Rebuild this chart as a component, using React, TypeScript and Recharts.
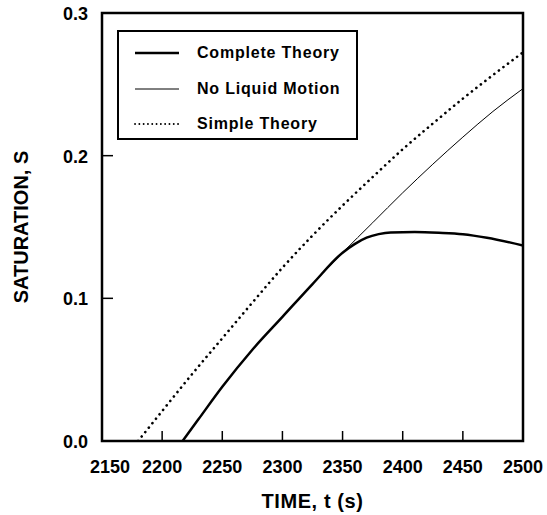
import { Label, Line, LineChart, ReferenceArea, XAxis, YAxis } from 'recharts';

// time (s) vs saturation S
const completeTheory = [
  { t: 2217, s: 0 },
  { t: 2230, s: 0.015 },
  { t: 2250, s: 0.038 },
  { t: 2275, s: 0.064 },
  { t: 2300, s: 0.087 },
  { t: 2325, s: 0.11 },
  { t: 2350, s: 0.132 },
  { t: 2360, s: 0.138 },
  { t: 2370, s: 0.1425 },
  { t: 2380, s: 0.145 },
  { t: 2390, s: 0.1462 },
  { t: 2410, s: 0.1465 },
  { t: 2430, s: 0.146 },
  { t: 2450, s: 0.145 },
  { t: 2470, s: 0.1425 },
  { t: 2500, s: 0.137 },
];

const noLiquidMotion = [
  { t: 2217, s: 0 },
  { t: 2230, s: 0.015 },
  { t: 2250, s: 0.038 },
  { t: 2275, s: 0.064 },
  { t: 2300, s: 0.087 },
  { t: 2325, s: 0.11 },
  { t: 2350, s: 0.132 },
  { t: 2375, s: 0.153 },
  { t: 2400, s: 0.174 },
  { t: 2425, s: 0.194 },
  { t: 2450, s: 0.213 },
  { t: 2475, s: 0.231 },
  { t: 2500, s: 0.247 },
];

const simpleTheory = [
  { t: 2180, s: 0 },
  { t: 2200, s: 0.021 },
  { t: 2225, s: 0.047 },
  { t: 2250, s: 0.072 },
  { t: 2275, s: 0.097 },
  { t: 2300, s: 0.1215 },
  { t: 2325, s: 0.144 },
  { t: 2350, s: 0.165 },
  { t: 2375, s: 0.185 },
  { t: 2400, s: 0.2045 },
  { t: 2425, s: 0.2225 },
  { t: 2450, s: 0.24 },
  { t: 2475, s: 0.2565 },
  { t: 2500, s: 0.2724 },
];

const timeTicks = [2150, 2200, 2250, 2300, 2350, 2400, 2450, 2500];
const satTicks = [0, 0.1, 0.2, 0.3];

const FONT = '"Liberation Sans", Arial, Helvetica, sans-serif';

const SERIES = [
  { name: 'Complete Theory', width: 2.5, dash: undefined },
  { name: 'No Liquid Motion', width: 1, dash: undefined },
  { name: 'Simple Theory', width: 2.6, dash: '0.1 5.6' },
];

function TimeTick({ x, y, payload }: any) {
  const v = payload.value as number;
  const edge = v === 2150 || v === 2500;
  return (
    <g>
      {!edge && <line x1={x} y1={y} x2={x} y2={y - 10} stroke="#000" strokeWidth={1.5} />}
      <text
        x={x + (v === 2150 ? 8 : 0)}
        y={y + 32}
        textAnchor="middle"
        fontFamily={FONT}
        fontWeight="bold"
        fontSize={18}
        fill="#000"
      >
        {v}
      </text>
    </g>
  );
}

function SatTick({ x, y, payload }: any) {
  const v = payload.value as number;
  const edge = v === 0 || v === 0.3;
  return (
    <g>
      {!edge && <line x1={x} y1={y} x2={x + 11} y2={y} stroke="#000" strokeWidth={1.5} />}
      <text
        x={x - 14}
        y={y + 7}
        textAnchor="end"
        fontFamily={FONT}
        fontWeight="bold"
        fontSize={18}
        fill="#000"
      >
        {v.toFixed(1)}
      </text>
    </g>
  );
}

function ChartLegend() {
  return (
    <div
      style={{
        position: 'absolute',
        left: 117,
        top: 30,
        width: 241,
        height: 110,
        boxSizing: 'border-box',
        border: '2px solid #000',
        background: '#fff',
        fontFamily: FONT,
        fontWeight: 'bold',
        fontSize: 16,
        letterSpacing: 0.8,
      }}
    >
      {SERIES.map((s, i) => (
        <div
          key={s.name}
          style={{ position: 'absolute', left: 15, top: 9 + i * 35.5, height: 24, display: 'flex', alignItems: 'center' }}
        >
          <svg width={46} height={10} style={{ marginRight: 17 }}>
            <line
              x1={1}
              y1={5}
              x2={45}
              y2={5}
              stroke="#000"
              strokeWidth={s.dash ? 1.8 : s.width}
              strokeDasharray={s.dash ? '0.1 4.2' : undefined}
              strokeLinecap={s.dash ? 'round' : 'butt'}
            />
          </svg>
          <span>{s.name}</span>
        </div>
      ))}
    </div>
  );
}

export default function App() {
  return (
    <div style={{ position: 'absolute', left: 0, top: 0, width: 547, height: 515, background: '#fff' }}>
      <LineChart width={547} height={515} margin={{ top: 13, right: 24, bottom: 0, left: 0 }}>
        <XAxis
          dataKey="t"
          type="number"
          domain={[2150, 2500]}
          ticks={timeTicks}
          allowDataOverflow
          height={74}
          tickSize={0}
          tickMargin={0}
          axisLine={false}
          tick={<TimeTick />}
        >
          <Label
            content={({ viewBox }: any) => (
              <text
                x={viewBox.x + viewBox.width / 2}
                y={viewBox.y + 67}
                textAnchor="middle"
                fontFamily={FONT}
                fontWeight="bold"
                fontSize={20}
                letterSpacing={0.6}
                fill="#000"
              >
                TIME, t (s)
              </text>
            )}
          />
        </XAxis>
        <YAxis
          type="number"
          domain={[0, 0.3]}
          ticks={satTicks}
          allowDataOverflow
          width={102}
          tickSize={0}
          tickMargin={0}
          axisLine={false}
          tick={<SatTick />}
        >
          <Label
            content={({ viewBox }: any) => {
              const cx = viewBox.x + 21;
              const cy = viewBox.y + viewBox.height / 2;
              return (
                <text
                  x={cx}
                  y={cy}
                  transform={`rotate(-90 ${cx} ${cy})`}
                  textAnchor="middle"
                  dominantBaseline="central"
                  fontFamily={FONT}
                  fontWeight="bold"
                  fontSize={20}
                  fill="#000"
                >
                  SATURATION, S
                </text>
              );
            }}
          />
        </YAxis>
        <Line
          data={noLiquidMotion}
          dataKey="s"
          name="No Liquid Motion"
          type="monotone"
          stroke="#000"
          strokeWidth={1}
          dot={false}
          isAnimationActive={false}
        />
        <Line
          data={completeTheory}
          dataKey="s"
          name="Complete Theory"
          type="monotone"
          stroke="#000"
          strokeWidth={2.5}
          dot={false}
          isAnimationActive={false}
        />
        <Line
          data={simpleTheory}
          dataKey="s"
          name="Simple Theory"
          type="monotone"
          stroke="#000"
          strokeWidth={2.6}
          strokeDasharray="0.1 5.6"
          strokeLinecap="round"
          dot={false}
          isAnimationActive={false}
        />
        <ReferenceArea
          x1={2150}
          x2={2500}
          y1={0}
          y2={0.3}
          fill="none"
          fillOpacity={0}
          stroke="#000"
          strokeWidth={2.5}
          ifOverflow="visible"
        />
      </LineChart>
      <ChartLegend />
    </div>
  );
}
